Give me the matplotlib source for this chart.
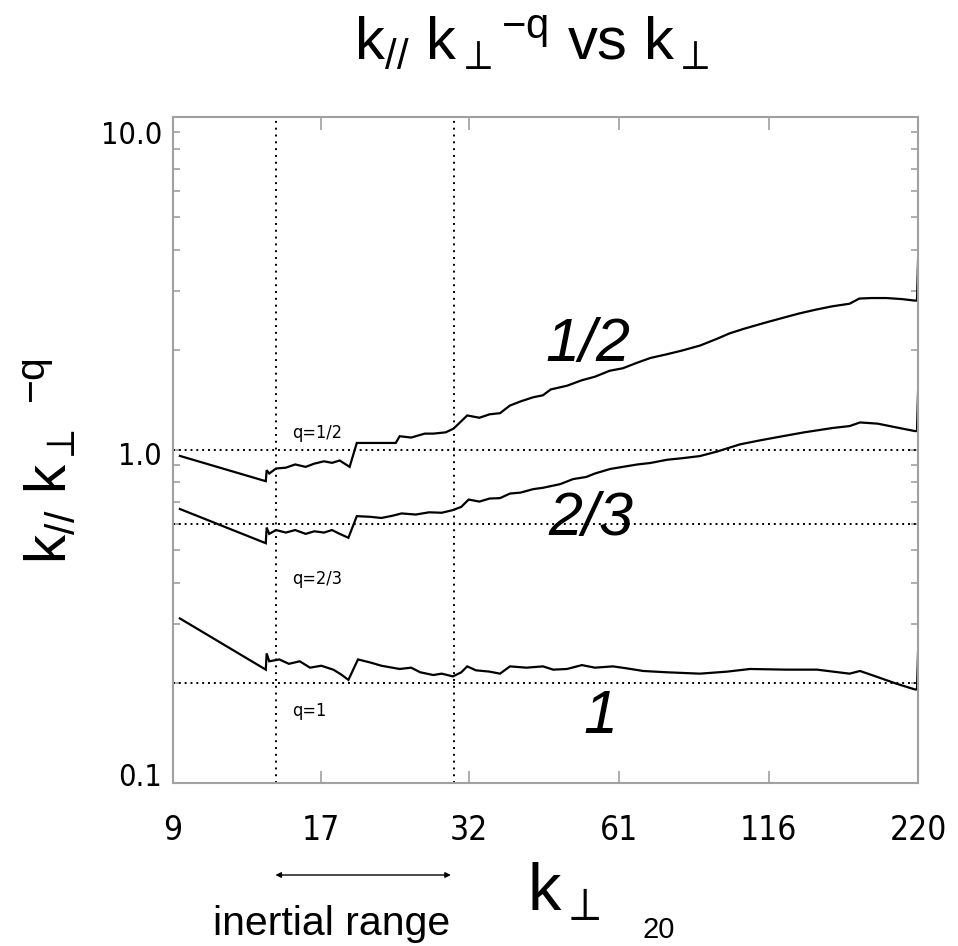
import matplotlib
matplotlib.use("Agg")
import matplotlib.pyplot as plt
import matplotlib.transforms as mtransforms
from matplotlib import ticker

plt.rcParams['font.family'] = ['Liberation Sans', 'DejaVu Sans']
plt.rcParams['mathtext.fontset'] = 'custom'
plt.rcParams['mathtext.rm'] = 'Liberation Sans'
plt.rcParams['mathtext.it'] = 'Liberation Sans:italic'
plt.rcParams['mathtext.fallback'] = 'stixsans'

# k_perp values and k_par k_perp^-q for each q
k_half = [9.27, 13.4, 13.45, 13.6, 14.0, 14.6, 15.2, 15.9, 16.5, 17.2, 17.8, 18.4,
          19.2, 19.8, 20.5, 22.0, 23.4, 23.8, 25.0, 26.5, 27.5, 29.0, 30.0, 31.8,
          33.5, 35.0, 36.6, 38.2, 40.0, 42.2, 44.0, 45.5, 48.8, 52.0, 55.0, 58.6,
          62.0, 66.0, 69.8, 75.0, 80.0, 86.4, 93.0, 98.0, 104.0, 115.0, 125.0,
          132.0, 142.0, 152.0, 164.0, 171.0, 180.0, 192.0, 205.0, 217.0, 219.0, 220.0]
v_half = [0.96, 0.806, 0.87, 0.85, 0.88, 0.885, 0.905, 0.89, 0.91, 0.925, 0.915, 0.93,
          0.89, 1.05, 1.05, 1.05, 1.05, 1.10, 1.09, 1.12, 1.12, 1.13, 1.16, 1.27,
          1.25, 1.28, 1.29, 1.36, 1.40, 1.44, 1.46, 1.52, 1.56, 1.62, 1.66, 1.73,
          1.76, 1.83, 1.89, 1.94, 1.99, 2.06, 2.16, 2.24, 2.31, 2.42, 2.51,
          2.57, 2.64, 2.70, 2.75, 2.85, 2.86, 2.86, 2.84, 2.81, 2.81, 3.71]

k_two3 = [9.27, 13.4, 13.45, 13.6, 14.0, 14.6, 15.2, 15.9, 16.5, 17.2, 17.8, 18.4,
          19.1, 19.8, 21.0, 22.0, 23.1, 24.0, 25.5, 27.0, 28.5, 29.9, 31.0, 32.0,
          33.5, 35.0, 36.6, 38.2, 40.0, 42.2, 44.0, 47.4, 50.1, 53.0, 55.0, 58.7,
          62.0, 66.0, 69.7, 75.0, 80.0, 86.3, 93.0, 102.5, 112.0, 123.0, 135.0,
          152.8, 164.0, 171.5, 185.0, 200.0, 217.0, 219.0, 220.0]
v_two3 = [0.665, 0.525, 0.585, 0.56, 0.575, 0.565, 0.575, 0.56, 0.57, 0.565, 0.575, 0.56,
          0.545, 0.633, 0.63, 0.625, 0.635, 0.645, 0.64, 0.65, 0.648, 0.66, 0.675, 0.71,
          0.70, 0.715, 0.717, 0.74, 0.745, 0.763, 0.77, 0.79, 0.818, 0.83, 0.85, 0.877,
          0.89, 0.905, 0.914, 0.935, 0.945, 0.959, 0.99, 1.04, 1.07, 1.10, 1.13,
          1.165, 1.18, 1.21, 1.20, 1.17, 1.14, 1.14, 1.50]

k_one = [9.27, 13.4, 13.45, 13.6, 14.2, 14.8, 15.5, 16.2, 17.0, 17.9, 18.5, 19.1,
         19.9, 21.0, 22.0, 23.8, 25.0, 26.0, 27.5, 28.5, 29.9, 31.0, 31.8, 33.0,
         35.0, 36.6, 38.2, 41.0, 44.0, 46.0, 48.8, 52.0, 55.0, 59.4, 63.0, 67.6,
         75.0, 86.3, 97.0, 107.0, 125.0, 142.6, 164.0, 171.5, 185.0, 200.0, 217.0,
         219.0, 220.0]
v_one = [0.312, 0.219, 0.245, 0.232, 0.235, 0.228, 0.232, 0.222, 0.225, 0.219, 0.212, 0.204,
         0.235, 0.23, 0.225, 0.22, 0.222, 0.215, 0.211, 0.213, 0.209, 0.215, 0.224, 0.218,
         0.216, 0.213, 0.224, 0.222, 0.224, 0.219, 0.22, 0.226, 0.222, 0.224, 0.221, 0.217,
         0.215, 0.213, 0.216, 0.22, 0.219, 0.219, 0.213, 0.217, 0.208, 0.199, 0.191,
         0.191, 0.248]

x_ticks = [9, 17, 32, 61, 116, 220]
y_ticks = [0.1, 1.0, 10.0]
y_tick_labels = ["0.1", "1.0", "10.0"]
ref_levels = [1.0, 0.6, 0.2]
ref_labels = ["q=1/2", "q=2/3", "q=1"]
ref_label_y = [1.125, 0.409, 0.164]
inertial = [14, 30]

FRAME = "#a0a0a0"

fig = plt.figure(figsize=(9.58, 9.46), dpi=100)
ax = fig.add_axes([0.1806, 0.1723, 0.7777, 0.7040])

for ks, vs in [(k_half, v_half), (k_two3, v_two3), (k_one, v_one)]:
    ax.plot(ks, vs, color="black", lw=1.6, solid_joinstyle="miter")

for lvl in ref_levels:
    ax.axhline(lvl, color="black", lw=1.4, ls=(0, (1, 2)))
for kx in inertial:
    ax.axvline(kx, color="black", lw=1.4, ls=(0, (1, 2.5)))

narrow = dict(family="DejaVu Sans", stretch="condensed")
for lab, yy in zip(ref_labels, ref_label_y):
    ax.text(15.0, yy, lab, fontsize=13, va="center", ha="left", **narrow)

ax.text(53.3, 2.06, "1/2", fontsize=44, style="italic", ha="center", va="center")
ax.text(54.0, 0.62, "2/3", fontsize=44, style="italic", ha="center", va="center")
ax.text(56.4, 0.157, "1", fontsize=44, style="italic", ha="center", va="center")

ax.set_xscale("log")
ax.set_yscale("log")
ax.set_xlim(9, 220)
ax.set_ylim(0.1, 10)
ax.set_xticks(x_ticks)
ax.set_xticklabels([str(t) for t in x_ticks])
ax.xaxis.set_minor_locator(ticker.NullLocator())
ax.set_yticks(y_ticks)
ax.set_yticklabels(y_tick_labels)
ax.yaxis.set_minor_locator(ticker.LogLocator(base=10, subs=range(2, 10)))
ax.yaxis.set_minor_formatter(ticker.NullFormatter())

ax.tick_params(axis="both", which="both", direction="in", color=FRAME,
               top=True, right=True, width=1.2)
ax.tick_params(axis="x", which="major", length=9, pad=22, labelsize=24)
ax.tick_params(axis="y", which="major", length=6, pad=8, labelsize=22)
ax.tick_params(axis="y", which="minor", length=5)
for lab in ax.get_xticklabels() + ax.get_yticklabels():
    lab.set_family("DejaVu Sans")
    lab.set_stretch("condensed")
for s in ax.spines.values():
    s.set_color(FRAME)
    s.set_linewidth(1.5)

# IDL places the y labels a bit off their ticks
shifts = {"10.0": -15, "1.0": -3, "0.1": 9}
for lab in ax.get_yticklabels():
    dy = shifts.get(lab.get_text(), 0) / 100
    lab.set_transform(lab.get_transform() +
                      mtransforms.ScaledTranslation(0, dy, fig.dpi_scale_trans))

fig.text(0.555, 0.937, r"$\mathrm{k}_{//}\ \mathrm{k}_{\perp}{}^{\mathrm{-q}}\ \mathrm{vs}\ \mathrm{k}_{\perp}$",
         fontsize=43, ha="center", va="baseline")
fig.text(0.052, 0.513, r"$\mathrm{k}_{//}\ \mathrm{k}_{\perp}\ {}^{\mathrm{-q}}$",
         fontsize=42, ha="center", va="center", rotation=90)
fig.text(0.550, 1 - 910 / 946, r"$\mathrm{k}_{\perp}$", fontsize=48, ha="left", va="baseline")
fig.text(0.671, 1 - 938 / 946, "20", fontsize=21, ha="left", va="baseline")
fig.text(0.346, 1 - 935 / 946, "inertial range", fontsize=29.5, ha="center", va="baseline")

ax.annotate("", xy=(inertial[1], 1 - 875 / 946), xytext=(inertial[0] - 0.2, 1 - 875 / 946),
            xycoords=("data", "figure fraction"), textcoords=("data", "figure fraction"),
            arrowprops=dict(arrowstyle="<|-|>", lw=1.0, color="black", mutation_scale=8),
            annotation_clip=False)

fig.savefig("out.png", dpi=100)
